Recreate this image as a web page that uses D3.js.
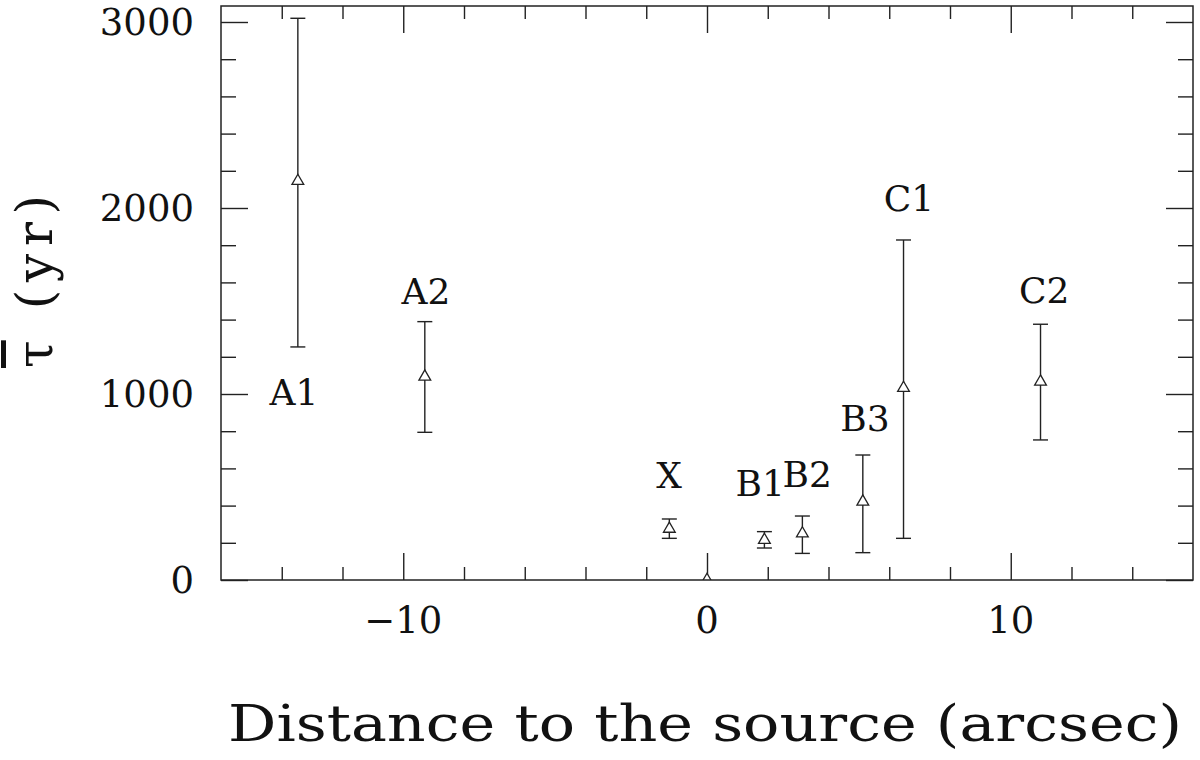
<!DOCTYPE html>
<html>
<head>
<meta charset="utf-8">
<script src="https://cdn.jsdelivr.net/npm/d3@7"></script>
<style>
  body { margin: 0; background: #fff; }
  text { font-family: "DejaVu Serif", "Liberation Serif", serif; fill: #111; }
</style>
</head>
<body>
<svg width="1200" height="760"></svg>
<script>
// regions: offset (arcsec), mean age, lower/upper error ends
var names  = ["A1", "A2", "X", "src", "B1", "B2", "B3", "C1", "C2"];
var offset = [-13.47, -9.29, -1.24, 0, 1.89, 3.14, 5.13, 6.47, 10.98];
var tau    = [2145, 1093, 275, 0, 215, 250, 421, 1032, 1066];
var tauLo  = [1253, 794, 224, 0, 172, 143, 147, 224, 753];
var tauHi  = [3020, 1389, 328, 0, 260, 344, 672, 1828, 1375];

// label anchors in data units
var labels = [
  {text: "A1", x: -13.6, y: 941},
  {text: "A2", x: -9.25, y: 1484},
  {text: "X",  x: -1.25, y: 495},
  {text: "B1", x: 1.75,  y: 452},
  {text: "B2", x: 3.3,   y: 500},
  {text: "B3", x: 5.2,   y: 800},
  {text: "C1", x: 6.65,  y: 1984},
  {text: "C2", x: 11.1,  y: 1489}
];

var xMajor = [-10, 0, 10];
var yMajor = [0, 1000, 2000, 3000];

var mLeft = 221, mRight = 1193, mTop = 6, mBottom = 580;

var svg = d3.select("svg");

var x = d3.scaleLinear().domain([-16, 16]).range([mLeft, mRight]);
var y = d3.scaleLinear().domain([0, 3086]).range([mBottom, mTop]);

var ink = "#222";

var points = names.map(function(n, i){
  return {name: n, x: offset[i], y: tau[i], lo: tauLo[i], hi: tauHi[i]};
});

svg.append("clipPath").attr("id", "plotclip")
  .append("rect")
  .attr("x", mLeft).attr("y", mTop)
  .attr("width", mRight - mLeft).attr("height", mBottom - mTop);

// ticks on all four sides, pointing inward
var xMinor = d3.range(-14, 16, 2).filter(function(v){ return xMajor.indexOf(v) < 0; });
var yMinor = d3.range(200, 3086, 200).filter(function(v){ return yMajor.indexOf(v) < 0; });

function drawX(g, scale, major, minor, side){
  var ax = side === "bottom" ? d3.axisTop(scale) : d3.axisBottom(scale);
  g.append("g").call(ax.tickValues(major).tickSize(27).tickFormat(""));
  g.append("g").call(ax.tickValues(minor).tickSize(13).tickFormat(""));
}
function drawY(g, scale, major, minor, side){
  var ax = side === "left" ? d3.axisRight(scale) : d3.axisLeft(scale);
  g.append("g").call(ax.tickValues(major).tickSize(27).tickFormat(""));
  g.append("g").call(ax.tickValues(minor).tickSize(15).tickFormat(""));
}

var gb = svg.append("g").attr("transform", "translate(0," + mBottom + ")");
drawX(gb, x, xMajor, xMinor, "bottom");
var gt = svg.append("g").attr("transform", "translate(0," + mTop + ")");
drawX(gt, x, xMajor, xMinor, "top");
var gl = svg.append("g").attr("transform", "translate(" + mLeft + ",0)");
drawY(gl, y, yMajor, yMinor, "left");
var gr = svg.append("g").attr("transform", "translate(" + mRight + ",0)");
drawY(gr, y, yMajor, yMinor, "right");

svg.selectAll(".domain").remove();
svg.selectAll(".tick line").attr("stroke", ink).attr("stroke-width", 1.4);

// tick labels
svg.selectAll(".xl")
  .data(xMajor)
  .enter()
  .append("text")
  .attr("x", d => x(d))
  .attr("y", 633)
  .attr("text-anchor", "middle")
  .style("font-size", "37px")
  .text(d => d < 0 ? "\u2212" + Math.abs(d) : d);

svg.selectAll(".yl")
  .data(yMajor)
  .enter()
  .append("text")
  .attr("x", 194)
  .attr("y", d => y(d) + 13)
  .attr("text-anchor", "end")
  .style("font-size", "37px")
  .text(d => d);

var plot = svg.append("g").attr("clip-path", "url(#plotclip)");

// error bars
var bars = plot.append("g").attr("stroke", ink).attr("stroke-width", 1.4).attr("fill", "none");
var withErr = points.filter(d => d.hi > d.lo);
bars.selectAll(".v")
  .data(withErr)
  .enter()
  .append("line")
  .attr("x1", d => x(d.x)).attr("x2", d => x(d.x))
  .attr("y1", d => y(d.lo)).attr("y2", d => y(d.hi));
bars.selectAll(".lo")
  .data(withErr)
  .enter()
  .append("line")
  .attr("x1", d => x(d.x) - 7.5).attr("x2", d => x(d.x) + 7.5)
  .attr("y1", d => y(d.lo)).attr("y2", d => y(d.lo));
bars.selectAll(".hi")
  .data(withErr)
  .enter()
  .append("line")
  .attr("x1", d => x(d.x) - 7.5).attr("x2", d => x(d.x) + 7.5)
  .attr("y1", d => y(d.hi)).attr("y2", d => y(d.hi));

// open triangles
plot.selectAll(".pt")
  .data(points)
  .enter()
  .append("path")
  .attr("d", d3.symbol(d3.symbolTriangle, 60))
  .attr("transform", d => "translate(" + x(d.x) + "," + y(d.y) + ")")
  .attr("fill", "#fff")
  .attr("stroke", ink)
  .attr("stroke-width", 1.3);

svg.append("rect")
  .attr("x", mLeft).attr("y", mTop)
  .attr("width", mRight - mLeft).attr("height", mBottom - mTop)
  .attr("fill", "none").attr("stroke", ink).attr("stroke-width", 1.5);

// region labels
svg.selectAll(".lab")
  .data(labels)
  .enter()
  .append("text")
  .attr("x", d => x(d.x))
  .attr("y", d => y(d.y))
  .attr("text-anchor", "middle")
  .style("font-size", "36px")
  .text(d => d.text);

// axis titles
svg.append("text")
  .attr("x", 228)
  .attr("y", 741)
  .attr("textLength", 954)
  .attr("lengthAdjust", "spacingAndGlyphs")
  .style("font-size", "50px")
  .text("Distance to the source (arcsec)");

var yt = svg.append("text")
  .attr("transform", "translate(52,368) rotate(-90)")
  .attr("textLength", 173)
  .attr("lengthAdjust", "spacing")
  .style("font-size", "50px");
yt.append("tspan").style("text-decoration", "overline").text("\u03c4");
yt.append("tspan").text("  (yr)");
</script>
</body>
</html>
